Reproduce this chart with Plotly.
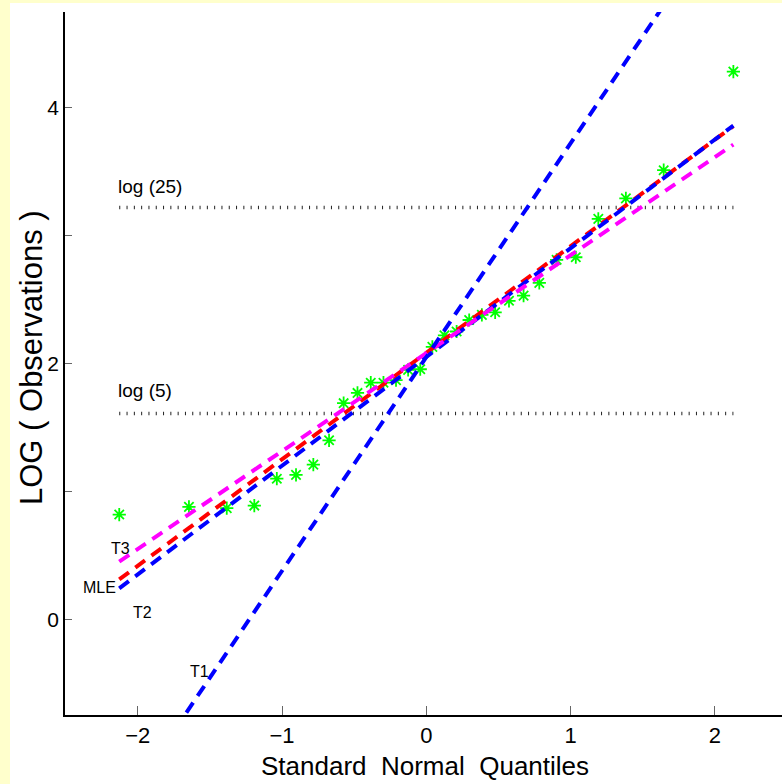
import plotly.graph_objects as go

# Standard normal quantiles (n = 30) and log observations
quantiles = [-2.128, -1.645, -1.383, -1.192, -1.036, -0.903, -0.783, -0.674, -0.573, -0.477,
             -0.385, -0.297, -0.210, -0.126, -0.042, 0.042, 0.126, 0.210, 0.297, 0.385,
             0.477, 0.573, 0.674, 0.783, 0.903, 1.036, 1.192, 1.383, 1.645, 2.128]
log_obs = [0.82, 0.88, 0.87, 0.89, 1.10, 1.13, 1.21, 1.40, 1.69, 1.77,
           1.85, 1.85, 1.87, 1.95, 1.955, 2.13, 2.22, 2.25, 2.34, 2.38,
           2.40, 2.49, 2.53, 2.63, 2.81, 2.83, 3.13, 3.29, 3.51, 4.28]

# Fitted lines (endpoints)
fit_x = [-2.128, 2.128]
t1_y = [-1.504, 5.604]
t2_y = [0.243, 3.859]
mle_y = [0.313, 3.855]
t3_y = [0.452, 3.710]

# Reference levels
ref_x = [-2.128, 2.128]
log25 = 3.2189
log5 = 1.6094

xticks = [-2, -1, 0, 1, 2]
yticks = [0, 1, 2, 3, 4]
yticktext = ["0", "", "2", "", "4"]

FONT = "Liberation Sans, Arial, Helvetica, sans-serif"

fig = go.Figure()

fig.add_trace(go.Scatter(x=quantiles, y=log_obs, mode="markers",
                         marker=dict(symbol="asterisk-open", size=11, color="#00FF00",
                                     line=dict(color="#00FF00", width=1.8)),
                         hoverinfo="skip", cliponaxis=False))

dotted = dict(color="#222222", width=3.5, dash="1px,6.3px")
fig.add_trace(go.Scatter(x=ref_x, y=[log25, log25], mode="lines", line=dotted, hoverinfo="skip"))
fig.add_trace(go.Scatter(x=ref_x, y=[log5, log5], mode="lines", line=dotted, hoverinfo="skip"))

dash = "12px,8px"
fig.add_trace(go.Scatter(x=fit_x, y=mle_y, mode="lines",
                         line=dict(color="#FF0000", width=4, dash=dash), hoverinfo="skip"))
fig.add_trace(go.Scatter(x=fit_x, y=t2_y, mode="lines",
                         line=dict(color="#0000FF", width=4, dash=dash), hoverinfo="skip"))
fig.add_trace(go.Scatter(x=fit_x, y=t3_y, mode="lines",
                         line=dict(color="#FF00FF", width=4, dash=dash), hoverinfo="skip"))
fig.add_trace(go.Scatter(x=fit_x, y=t1_y, mode="lines",
                         line=dict(color="#0000FF", width=4, dash=dash), hoverinfo="skip"))

labels = [
    ("log (25)", -2.150, 3.379, "left", 19),
    ("log (5)", -2.150, 1.793, "left", 19),
    ("T3", -2.116, 0.551, "center", 16),
    ("MLE", -2.268, 0.254, "center", 16),
    ("T2", -1.970, 0.051, "center", 16),
    ("T1", -1.575, -0.41, "center", 16),
]
for txt, lx, ly, anc, fs in labels:
    fig.add_annotation(x=lx, y=ly, xref="x", yref="y", text=txt, showarrow=False,
                       xanchor=anc, yanchor="middle",
                       font=dict(family=FONT, size=fs, color="black"))

# axis titles
fig.add_annotation(x=(425 - 65) / 717, y=(715 - 766) / 703, xref="paper", yref="paper",
                   text="Standard  Normal  Quantiles", showarrow=False,
                   xanchor="center", yanchor="middle",
                   font=dict(family=FONT, size=26, color="black"))
fig.add_annotation(x=(31 - 65) / 717, y=(715 - 358) / 703, xref="paper", yref="paper",
                   text="LOG ( Observations )", showarrow=False, textangle=-90,
                   xanchor="center", yanchor="middle",
                   font=dict(family=FONT, size=31, color="black"))

# white page with yellow strip left/top
fig.add_shape(type="rect", xref="paper", yref="paper",
              x0=(10 - 65) / 717, x1=1.1, y0=-0.2, y1=1 + 9 / 703,
              fillcolor="white", line=dict(width=0), layer="below")

fig.update_layout(
    width=782, height=784,
    margin=dict(l=65, r=0, t=12, b=69),
    paper_bgcolor="#FFFFCC", plot_bgcolor="white",
    showlegend=False,
    xaxis=dict(range=[-2.504, 2.465], tickvals=xticks, ticks="inside", ticklen=9,
               tickcolor="#666666", tickwidth=1, showline=True, linecolor="black",
               linewidth=1.5, showgrid=False, zeroline=False, mirror=False,
               tickfont=dict(family=FONT, size=22, color="black"),
               ticklabelstandoff=0),
    yaxis=dict(range=[-0.746, 4.746], tickvals=yticks, ticktext=yticktext,
               ticks="inside", ticklen=7, tickcolor="#666666", tickwidth=1,
               showline=True, linecolor="black", linewidth=1.5, showgrid=False,
               zeroline=False, mirror=False,
               tickfont=dict(family=FONT, size=21, color="black")),
)

fig.write_html("out.html")
